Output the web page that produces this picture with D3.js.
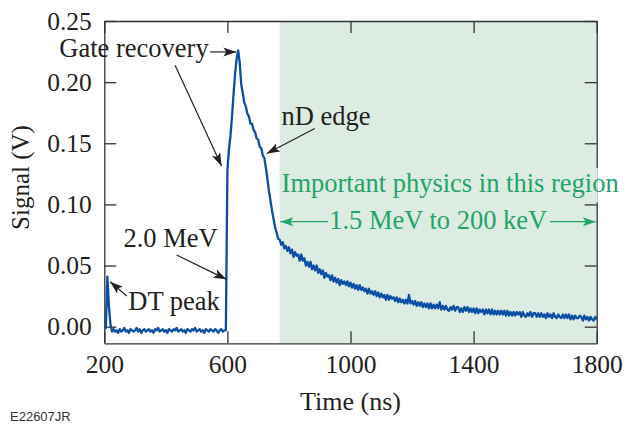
<!DOCTYPE html>
<html>
<head>
<meta charset="utf-8">
<script src="https://cdn.jsdelivr.net/npm/d3@7"></script>
<style>
  body { margin: 0; background: #fff; }
  svg text { font-family: "Liberation Serif", "Times New Roman", serif; }
</style>
</head>
<body>
<svg id="chart" width="625" height="424"></svg>
<script>
// detector trace, one sample every 5 ns starting at 200 ns
const sampleStart = 200;
const sampleStep = 5;
const signal = [
  -0.002,-0.001,0.041,0.017,0.002,-0.004,-0.002,-0.004,-0.003,-0.005,
  -0.002,-0.004,-0.003,-0.001,-0.004,-0.003,-0.005,-0.002,-0.003,-0.004,
  -0.003,-0.001,-0.004,-0.002,-0.005,-0.003,-0.002,-0.004,-0.003,-0.002,
  -0.004,-0.003,-0.005,-0.002,-0.003,-0.001,-0.004,-0.003,-0.002,-0.004,
  -0.003,-0.005,-0.002,-0.003,-0.004,-0.002,-0.003,-0.001,-0.004,-0.003,
  -0.002,-0.004,-0.003,-0.005,-0.002,-0.003,-0.004,-0.002,-0.003,-0.001,
  -0.004,-0.003,-0.002,-0.004,-0.003,-0.005,-0.002,-0.003,-0.004,-0.002,
  -0.003,-0.004,-0.002,-0.003,-0.005,-0.003,-0.002,-0.004,-0.003,-0.003,
  0.128,0.145,0.156,0.172,0.190,0.207,0.219,0.226,0.216,0.198,
  0.191,0.183,0.180,0.174,0.172,0.166,0.166,0.161,0.159,0.154,
  0.153,0.147,0.146,0.140,0.138,0.130,0.121,0.111,0.103,0.095,
  0.088,0.081,0.077,0.072,0.071,0.067,0.069,0.064,0.066,0.062,
  0.065,0.060,0.063,0.057,0.061,0.058,0.059,0.054,0.059,0.054,
  0.056,0.050,0.053,0.049,0.053,0.047,0.050,0.046,0.050,0.044,
  0.047,0.043,0.046,0.040,0.044,0.041,0.042,0.038,0.042,0.037,
  0.040,0.036,0.039,0.034,0.038,0.035,0.037,0.034,0.037,0.033,
  0.036,0.032,0.035,0.031,0.034,0.030,0.034,0.030,0.032,0.029,
  0.031,0.027,0.031,0.027,0.029,0.026,0.029,0.025,0.028,0.024,
  0.027,0.024,0.026,0.022,0.026,0.022,0.025,0.023,0.024,0.021,
  0.024,0.020,0.023,0.020,0.022,0.019,0.022,0.019,0.026,0.019,
  0.021,0.018,0.021,0.017,0.020,0.017,0.020,0.016,0.019,0.016,
  0.019,0.015,0.019,0.015,0.018,0.015,0.018,0.015,0.020,0.014,
  0.017,0.014,0.017,0.014,0.013,0.016,0.014,0.017,0.013,0.016,
  0.016,0.012,0.015,0.012,0.016,0.013,0.016,0.012,0.015,0.012,
  0.015,0.011,0.015,0.011,0.014,0.012,0.014,0.010,0.014,0.011,
  0.014,0.010,0.014,0.010,0.013,0.010,0.013,0.010,0.013,0.010,
  0.013,0.009,0.013,0.009,0.012,0.009,0.012,0.009,0.012,0.010,
  0.012,0.008,0.012,0.009,0.008,0.011,0.009,0.012,0.008,0.011,
  0.011,0.008,0.011,0.008,0.011,0.008,0.010,0.007,0.011,0.008,
  0.010,0.007,0.011,0.008,0.007,0.010,0.008,0.007,0.010,0.007,
  0.010,0.007,0.010,0.006,0.009,0.006,0.009,0.007,0.007,0.009,
  0.008,0.005,0.009,0.006,0.008,0.005,0.008,0.006,0.005,0.008,
  0.006
];
const time = signal.map((d, i) => sampleStart + i * sampleStep);

const xTicks = [200, 600, 1000, 1400, 1800];
const yTicks = [0, 0.05, 0.10, 0.15, 0.20, 0.25];
const region = [770, 1800];  // "important physics" window (ns)

const svg = d3.select("#chart");
const x = d3.scaleLinear().domain([200, 1800]).range([104.3, 596.7]);
const y = d3.scaleLinear().domain([-0.0136, 0.25]).range([343.3, 21]);

const ink = "#231f20";
const green = "#22a466";
const shade = "#ddece2";

// shaded region
svg.append("rect")
  .attr("x", x(region[0])).attr("y", y(0.25))
  .attr("width", x(region[1]) - x(region[0]))
  .attr("height", y(-0.0136) - y(0.25))
  .attr("fill", shade);

// axes on all four sides, ticks inside
function styleAxis(g) {
  g.selectAll("path, line").attr("stroke", "#333").attr("stroke-width", 1.3);
}
svg.append("g").attr("transform", `translate(0,${y.range()[0]})`)
  .call(d3.axisBottom(x).tickValues(xTicks).tickSize(-12).tickSizeOuter(0).tickPadding(0)
    .tickFormat(d3.format("d")))
  .call(styleAxis)
  .call(g => g.selectAll("text").attr("y", 30).attr("dy", 0)
    .attr("font-size", 25.5).attr("fill", ink)
    .style("font-family", "'Liberation Serif', serif"));
svg.append("g").attr("transform", `translate(0,${y.range()[1]})`)
  .call(d3.axisTop(x).tickValues(xTicks).tickSize(-12).tickSizeOuter(0).tickFormat(""))
  .call(styleAxis);
svg.append("g").attr("transform", `translate(${x.range()[0]},0)`)
  .call(d3.axisLeft(y).tickValues(yTicks).tickSize(-12).tickSizeOuter(0).tickFormat(d3.format(".2f")))
  .call(styleAxis)
  .call(g => g.selectAll("text").attr("x", -12.5).attr("dy", "0.32em")
    .attr("font-size", 25.5).attr("fill", ink)
    .style("font-family", "'Liberation Serif', serif"));
svg.append("g").attr("transform", `translate(${x.range()[1]},0)`)
  .call(d3.axisRight(y).tickValues(yTicks).tickSize(-12).tickSizeOuter(0).tickFormat(""))
  .call(styleAxis);

// trace
const line = d3.line().x((d, i) => x(time[i])).y(d => y(d));
svg.append("path")
  .datum(signal)
  .attr("d", line)
  .attr("fill", "none")
  .attr("stroke", "#0a4fa3")
  .attr("stroke-width", 2.3)
  .attr("stroke-linejoin", "round");

// axis titles
svg.append("text")
  .attr("x", (x.range()[0] + x.range()[1]) / 2).attr("y", 410)
  .attr("text-anchor", "middle").attr("font-size", 26).attr("fill", ink)
  .text("Time (ns)");
svg.append("text")
  .attr("transform", "translate(29,177.5) rotate(-90)")
  .attr("text-anchor", "middle").attr("font-size", 25).attr("fill", ink)
  .text("Signal (V)");

svg.append("text")
  .attr("x", 10).attr("y", 421)
  .attr("font-size", 13).attr("fill", "#333")
  .style("font-family", "'Liberation Sans', sans-serif")
  .text("E22607JR");

// arrow markers
const defs = svg.append("defs");
[["arrowInk", ink], ["arrowGreen", green]].forEach(([id, c]) => {
  defs.append("marker")
    .attr("id", id)
    .attr("viewBox", "-14 -6 16 12")
    .attr("markerUnits", "userSpaceOnUse")
    .attr("markerWidth", 16).attr("markerHeight", 12)
    .attr("refX", 0).attr("refY", 0)
    .attr("orient", "auto")
    .append("path")
    .attr("d", "M0,0 L-13,-4.5 L-10,0 L-13,4.5 Z")
    .attr("fill", c);
});

// background strip behind the green heading (hides the right axis line)
svg.append("rect")
  .attr("x", x(region[0])).attr("y", 168)
  .attr("width", x(region[1]) - x(region[0]) + 1).attr("height", 34.5)
  .attr("fill", shade);
svg.append("rect")
  .attr("x", x(region[1]) + 1).attr("y", 168)
  .attr("width", 40).attr("height", 34.5)
  .attr("fill", "#fff");

// annotations, in data coordinates
const notes = [
  { text: "Gate recovery", at: [54, 0.2205], color: ink },
  { text: "nD edge", at: [776, 0.1648], color: ink },
  { text: "2.0 MeV", at: [262, 0.0654], color: ink },
  { text: "DT peak", at: [278, 0.0136], color: ink },
  { text: "Important physics in this region", at: [776, 0.1103], color: green },
  { text: "1.5 MeV to 200 keV", at: [1285, 0.0798], color: green, anchor: "middle" }
];
const arrows = [
  { from: [544, 0.2247], to: [629, 0.2247], marker: "arrowInk", color: ink },
  { from: [430, 0.2138], to: [581, 0.1315], marker: "arrowInk", color: ink },
  { from: [884, 0.1621], to: [728, 0.1417], marker: "arrowInk", color: ink },
  { from: [435, 0.0586], to: [597, 0.0387], marker: "arrowInk", color: ink },
  { from: [273, 0.0251], to: [219, 0.0368], marker: "arrowInk", color: ink },
  { from: [927, 0.0859], to: [772, 0.0859], marker: "arrowGreen", color: green },
  { from: [1648, 0.0859], to: [1797, 0.0859], marker: "arrowGreen", color: green }
];

svg.append("g").selectAll("line").data(arrows).join("line")
  .attr("x1", d => x(d.from[0])).attr("y1", d => y(d.from[1]))
  .attr("x2", d => x(d.to[0])).attr("y2", d => y(d.to[1]))
  .attr("stroke", d => d.color).attr("stroke-width", 1.2)
  .attr("marker-end", d => `url(#${d.marker})`);

svg.append("g").selectAll("text").data(notes).join("text")
  .attr("x", d => x(d.at[0])).attr("y", d => y(d.at[1]))
  .attr("text-anchor", d => d.anchor || "start")
  .attr("font-size", 26.5)
  .attr("fill", d => d.color)
  .text(d => d.text);
</script>
</body>
</html>
